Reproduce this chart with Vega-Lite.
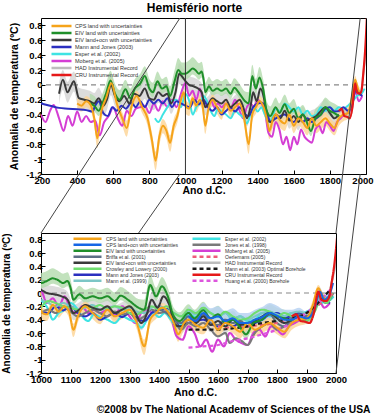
{
"$schema":"https://vega.github.io/schema/vega-lite/v6.json",
"background":"white",
"padding":{"left":1,"top":1,"right":0,"bottom":2},
"config":{
 "font":"Liberation Sans",
 "view":{"stroke":"#000","strokeWidth":1},
 "axis":{"labelFont":"Liberation Sans","labelFontWeight":"bold","labelFontSize":9.5,"labelColor":"#000","titleFont":"Liberation Sans","titleFontWeight":"bold","titleFontSize":10.5,"titleColor":"#000","grid":false,"domain":false,"ticks":true,"tickColor":"#000","tickSize":-4,"labelPadding":3,"labelFlush":false,"labelOverlap":false,"labelBound":false},
 "title":{"font":"Liberation Sans","fontWeight":"bold","color":"#000"}
},
"title":{"text":"©2008 by The National Academy of Sciences of the USA","orient":"bottom","anchor":"end","fontSize":10.3,"offset":6,"dx":-3},
"spacing":-182,
"resolve":{"scale":{"color":"independent","strokeDash":"independent","strokeWidth":"independent"}},
"datasets":{
"names":[
{"s":"cps","n":"CPS land with uncertainties"},
{"s":"eivl","n":"EIV land with uncertainties"},
{"s":"eivlo","n":"EIV land+ocn with uncertainties"},
{"s":"mj","n":"Mann and Jones (2003)"},
{"s":"esp","n":"Esper et al. (2002)"},
{"s":"mob","n":"Moberg et al. (2005)"},
{"s":"had","n":"HAD Instrumental Record"},
{"s":"cru","n":"CRU Instrumental Record"},
{"s":"cpslo","n":"CPS land+ocn with uncertainties"},
{"s":"bri","n":"Briffa et al. (2001)"},
{"s":"crow","n":"Crowley and Lowery (2000)"},
{"s":"m99","n":"Mann et al. (1999)"},
{"s":"jon","n":"Jones et al. (1998)"},
{"s":"oer","n":"Oerlemans (2005)"},
{"s":"mb","n":"Mann et al. (2003) Optimal Borehole"},
{"s":"hu","n":"Huang et al. (2000) Borehole"}
],
"conn":[
{"id":"C","x":1471,"y":4.125},{"id":"C","x":1000,"y":0.9},
{"id":"A","x":2082,"y":4.125},{"id":"A","x":2000,"y":0.9},
{"id":"D","x":1471,"y":1.785},{"id":"D","x":1331,"y":0.9},
{"id":"B","x":2082,"y":1.785},{"id":"B","x":2000,"y":-1.2}
],
"d":[
{"s":"had","x":1850,"y":-0.38},{"s":"had","x":1870,"y":-0.32},{"s":"had","x":1890,"y":-0.42},{"s":"had","x":1910,"y":-0.45},{"s":"had","x":1930,"y":-0.2},{"s":"had","x":1940,"y":0.0},{"s":"had","x":1955,"y":-0.12},{"s":"had","x":1970,"y":-0.12},{"s":"had","x":1985,"y":0.15},{"s":"had","x":1995,"y":0.35},{"s":"had","x":2006,"y":0.6},
{"s":"mob","x":200,"y":-0.4},{"s":"mob","x":225,"y":-0.5},{"s":"mob","x":250,"y":-0.35},{"s":"mob","x":270,"y":-0.27},{"s":"mob","x":300,"y":-0.45},{"s":"mob","x":325,"y":-0.62},{"s":"mob","x":350,"y":-0.42},{"s":"mob","x":375,"y":-0.55},{"s":"mob","x":400,"y":-0.36},{"s":"mob","x":425,"y":-0.5},{"s":"mob","x":450,"y":-0.42},{"s":"mob","x":475,"y":-0.5},{"s":"mob","x":500,"y":-0.48},{"s":"mob","x":525,"y":-0.68},{"s":"mob","x":550,"y":-0.5},{"s":"mob","x":575,"y":-0.42},{"s":"mob","x":600,"y":-0.3},{"s":"mob","x":625,"y":-0.45},{"s":"mob","x":650,"y":-0.55},{"s":"mob","x":675,"y":-0.35},{"s":"mob","x":700,"y":-0.42},{"s":"mob","x":725,"y":-0.32},{"s":"mob","x":750,"y":-0.3},{"s":"mob","x":775,"y":-0.28},{"s":"mob","x":800,"y":-0.38},{"s":"mob","x":825,"y":-0.25},{"s":"mob","x":850,"y":-0.35},{"s":"mob","x":875,"y":-0.22},{"s":"mob","x":900,"y":-0.3},{"s":"mob","x":925,"y":-0.2},{"s":"mob","x":950,"y":-0.3},{"s":"mob","x":975,"y":-0.12},{"s":"mob","x":1000,"y":0.03},{"s":"mob","x":1020,"y":-0.15},{"s":"mob","x":1040,"y":-0.08},{"s":"mob","x":1060,"y":-0.2},{"s":"mob","x":1080,"y":-0.05},{"s":"mob","x":1100,"y":-0.25},{"s":"mob","x":1120,"y":-0.3},{"s":"mob","x":1140,"y":-0.2},{"s":"mob","x":1160,"y":-0.3},{"s":"mob","x":1180,"y":-0.25},{"s":"mob","x":1200,"y":-0.3},{"s":"mob","x":1225,"y":-0.25},{"s":"mob","x":1250,"y":-0.32},{"s":"mob","x":1275,"y":-0.2},{"s":"mob","x":1300,"y":-0.35},{"s":"mob","x":1320,"y":-0.45},{"s":"mob","x":1340,"y":-0.3},{"s":"mob","x":1360,"y":-0.25},{"s":"mob","x":1380,"y":-0.3},{"s":"mob","x":1400,"y":-0.2},{"s":"mob","x":1420,"y":-0.25},{"s":"mob","x":1440,"y":-0.35},{"s":"mob","x":1460,"y":-0.65},{"s":"mob","x":1480,"y":-0.7},{"s":"mob","x":1500,"y":-0.5},{"s":"mob","x":1520,"y":-0.6},{"s":"mob","x":1540,"y":-0.8},{"s":"mob","x":1560,"y":-0.7},{"s":"mob","x":1580,"y":-0.88},{"s":"mob","x":1600,"y":-0.7},{"s":"mob","x":1620,"y":-0.8},{"s":"mob","x":1640,"y":-0.6},{"s":"mob","x":1660,"y":-0.7},{"s":"mob","x":1680,"y":-0.75},{"s":"mob","x":1700,"y":-0.78},{"s":"mob","x":1720,"y":-0.6},{"s":"mob","x":1740,"y":-0.55},{"s":"mob","x":1760,"y":-0.65},{"s":"mob","x":1780,"y":-0.5},{"s":"mob","x":1800,"y":-0.55},{"s":"mob","x":1820,"y":-0.62},{"s":"mob","x":1840,"y":-0.5},{"s":"mob","x":1860,"y":-0.45},{"s":"mob","x":1880,"y":-0.4},{"s":"mob","x":1900,"y":-0.38},{"s":"mob","x":1920,"y":-0.3},{"s":"mob","x":1940,"y":-0.08},{"s":"mob","x":1960,"y":-0.22},{"s":"mob","x":1979,"y":-0.15},
{"s":"esp","x":831,"y":-0.45},{"s":"esp","x":850,"y":-0.5},{"s":"esp","x":875,"y":-0.4},{"s":"esp","x":900,"y":-0.3},{"s":"esp","x":925,"y":-0.22},{"s":"esp","x":950,"y":-0.2},{"s":"esp","x":975,"y":-0.3},{"s":"esp","x":1000,"y":-0.12},{"s":"esp","x":1025,"y":-0.25},{"s":"esp","x":1040,"y":-0.4},{"s":"esp","x":1060,"y":-0.3},{"s":"esp","x":1080,"y":-0.25},{"s":"esp","x":1100,"y":-0.15},{"s":"esp","x":1120,"y":-0.22},{"s":"esp","x":1140,"y":-0.35},{"s":"esp","x":1160,"y":-0.42},{"s":"esp","x":1180,"y":-0.32},{"s":"esp","x":1200,"y":-0.36},{"s":"esp","x":1225,"y":-0.4},{"s":"esp","x":1250,"y":-0.45},{"s":"esp","x":1275,"y":-0.35},{"s":"esp","x":1300,"y":-0.4},{"s":"esp","x":1325,"y":-0.45},{"s":"esp","x":1340,"y":-0.52},{"s":"esp","x":1360,"y":-0.4},{"s":"esp","x":1380,"y":-0.3},{"s":"esp","x":1400,"y":-0.36},{"s":"esp","x":1420,"y":-0.3},{"s":"esp","x":1440,"y":-0.4},{"s":"esp","x":1460,"y":-0.5},{"s":"esp","x":1480,"y":-0.45},{"s":"esp","x":1500,"y":-0.32},{"s":"esp","x":1525,"y":-0.36},{"s":"esp","x":1550,"y":-0.25},{"s":"esp","x":1575,"y":-0.3},{"s":"esp","x":1600,"y":-0.36},{"s":"esp","x":1625,"y":-0.3},{"s":"esp","x":1650,"y":-0.4},{"s":"esp","x":1675,"y":-0.35},{"s":"esp","x":1700,"y":-0.42},{"s":"esp","x":1725,"y":-0.4},{"s":"esp","x":1750,"y":-0.3},{"s":"esp","x":1775,"y":-0.35},{"s":"esp","x":1800,"y":-0.3},{"s":"esp","x":1825,"y":-0.35},{"s":"esp","x":1850,"y":-0.3},{"s":"esp","x":1875,"y":-0.32},{"s":"esp","x":1900,"y":-0.28},{"s":"esp","x":1925,"y":-0.22},{"s":"esp","x":1950,"y":-0.15},{"s":"esp","x":1975,"y":-0.12},{"s":"esp","x":1992,"y":-0.05},
{"s":"mj","x":200,"y":-0.25},{"s":"mj","x":250,"y":-0.28},{"s":"mj","x":300,"y":-0.31},{"s":"mj","x":350,"y":-0.32},{"s":"mj","x":400,"y":-0.33},{"s":"mj","x":450,"y":-0.34},{"s":"mj","x":485,"y":-0.36},{"s":"mj","x":500,"y":-0.28},{"s":"mj","x":520,"y":-0.22},{"s":"mj","x":545,"y":-0.38},{"s":"mj","x":570,"y":-0.42},{"s":"mj","x":595,"y":-0.3},{"s":"mj","x":620,"y":-0.35},{"s":"mj","x":645,"y":-0.28},{"s":"mj","x":670,"y":-0.32},{"s":"mj","x":700,"y":-0.24},{"s":"mj","x":725,"y":-0.3},{"s":"mj","x":750,"y":-0.22},{"s":"mj","x":775,"y":-0.3},{"s":"mj","x":800,"y":-0.2},{"s":"mj","x":825,"y":-0.25},{"s":"mj","x":850,"y":-0.2},{"s":"mj","x":875,"y":-0.25},{"s":"mj","x":900,"y":-0.18},{"s":"mj","x":925,"y":-0.3},{"s":"mj","x":950,"y":-0.22},{"s":"mj","x":975,"y":-0.25},{"s":"mj","x":1000,"y":-0.28},{"s":"mj","x":1025,"y":-0.3},{"s":"mj","x":1050,"y":-0.2},{"s":"mj","x":1075,"y":-0.26},{"s":"mj","x":1100,"y":-0.2},{"s":"mj","x":1125,"y":-0.3},{"s":"mj","x":1150,"y":-0.35},{"s":"mj","x":1175,"y":-0.3},{"s":"mj","x":1200,"y":-0.4},{"s":"mj","x":1225,"y":-0.35},{"s":"mj","x":1250,"y":-0.3},{"s":"mj","x":1275,"y":-0.36},{"s":"mj","x":1300,"y":-0.3},{"s":"mj","x":1325,"y":-0.38},{"s":"mj","x":1350,"y":-0.42},{"s":"mj","x":1375,"y":-0.3},{"s":"mj","x":1400,"y":-0.25},{"s":"mj","x":1425,"y":-0.24},{"s":"mj","x":1450,"y":-0.35},{"s":"mj","x":1470,"y":-0.5},{"s":"mj","x":1500,"y":-0.45},{"s":"mj","x":1525,"y":-0.42},{"s":"mj","x":1550,"y":-0.4},{"s":"mj","x":1575,"y":-0.46},{"s":"mj","x":1600,"y":-0.5},{"s":"mj","x":1625,"y":-0.44},{"s":"mj","x":1650,"y":-0.5},{"s":"mj","x":1675,"y":-0.45},{"s":"mj","x":1700,"y":-0.5},{"s":"mj","x":1725,"y":-0.45},{"s":"mj","x":1750,"y":-0.4},{"s":"mj","x":1775,"y":-0.32},{"s":"mj","x":1800,"y":-0.3},{"s":"mj","x":1825,"y":-0.36},{"s":"mj","x":1850,"y":-0.35},{"s":"mj","x":1875,"y":-0.3},{"s":"mj","x":1900,"y":-0.35},{"s":"mj","x":1925,"y":-0.25},{"s":"mj","x":1945,"y":-0.05},{"s":"mj","x":1965,"y":-0.12},{"s":"mj","x":1980,"y":-0.15},
{"s":"jon","x":1000,"y":-0.3},{"s":"jon","x":1025,"y":-0.25},{"s":"jon","x":1050,"y":-0.3},{"s":"jon","x":1075,"y":-0.2},{"s":"jon","x":1100,"y":-0.28},{"s":"jon","x":1125,"y":-0.35},{"s":"jon","x":1150,"y":-0.3},{"s":"jon","x":1175,"y":-0.25},{"s":"jon","x":1200,"y":-0.3},{"s":"jon","x":1225,"y":-0.35},{"s":"jon","x":1250,"y":-0.28},{"s":"jon","x":1275,"y":-0.32},{"s":"jon","x":1300,"y":-0.3},{"s":"jon","x":1325,"y":-0.4},{"s":"jon","x":1350,"y":-0.35},{"s":"jon","x":1375,"y":-0.25},{"s":"jon","x":1400,"y":-0.3},{"s":"jon","x":1425,"y":-0.28},{"s":"jon","x":1450,"y":-0.4},{"s":"jon","x":1475,"y":-0.55},{"s":"jon","x":1500,"y":-0.45},{"s":"jon","x":1525,"y":-0.5},{"s":"jon","x":1550,"y":-0.45},{"s":"jon","x":1575,"y":-0.55},{"s":"jon","x":1600,"y":-0.65},{"s":"jon","x":1625,"y":-0.6},{"s":"jon","x":1640,"y":-0.75},{"s":"jon","x":1660,"y":-0.68},{"s":"jon","x":1680,"y":-0.72},{"s":"jon","x":1700,"y":-0.78},{"s":"jon","x":1725,"y":-0.6},{"s":"jon","x":1750,"y":-0.5},{"s":"jon","x":1775,"y":-0.45},{"s":"jon","x":1800,"y":-0.55},{"s":"jon","x":1825,"y":-0.5},{"s":"jon","x":1850,"y":-0.42},{"s":"jon","x":1875,"y":-0.35},{"s":"jon","x":1900,"y":-0.38},{"s":"jon","x":1925,"y":-0.25},{"s":"jon","x":1945,"y":-0.05},{"s":"jon","x":1965,"y":-0.15},{"s":"jon","x":1991,"y":0.0},
{"s":"m99","x":1000,"y":-0.1},{"s":"m99","x":1025,"y":-0.15},{"s":"m99","x":1050,"y":-0.2},{"s":"m99","x":1075,"y":-0.15},{"s":"m99","x":1100,"y":-0.2},{"s":"m99","x":1125,"y":-0.25},{"s":"m99","x":1150,"y":-0.22},{"s":"m99","x":1175,"y":-0.18},{"s":"m99","x":1200,"y":-0.25},{"s":"m99","x":1225,"y":-0.22},{"s":"m99","x":1250,"y":-0.2},{"s":"m99","x":1275,"y":-0.25},{"s":"m99","x":1300,"y":-0.22},{"s":"m99","x":1325,"y":-0.28},{"s":"m99","x":1350,"y":-0.3},{"s":"m99","x":1375,"y":-0.22},{"s":"m99","x":1400,"y":-0.2},{"s":"m99","x":1425,"y":-0.25},{"s":"m99","x":1450,"y":-0.3},{"s":"m99","x":1475,"y":-0.35},{"s":"m99","x":1500,"y":-0.28},{"s":"m99","x":1525,"y":-0.32},{"s":"m99","x":1550,"y":-0.25},{"s":"m99","x":1575,"y":-0.3},{"s":"m99","x":1600,"y":-0.35},{"s":"m99","x":1625,"y":-0.3},{"s":"m99","x":1650,"y":-0.38},{"s":"m99","x":1675,"y":-0.35},{"s":"m99","x":1700,"y":-0.4},{"s":"m99","x":1725,"y":-0.35},{"s":"m99","x":1750,"y":-0.3},{"s":"m99","x":1775,"y":-0.28},{"s":"m99","x":1800,"y":-0.32},{"s":"m99","x":1825,"y":-0.35},{"s":"m99","x":1850,"y":-0.3},{"s":"m99","x":1875,"y":-0.28},{"s":"m99","x":1900,"y":-0.3},{"s":"m99","x":1925,"y":-0.2},{"s":"m99","x":1950,"y":-0.05},{"s":"m99","x":1980,"y":-0.08},
{"s":"crow","x":1000,"y":-0.22},{"s":"crow","x":1025,"y":-0.12},{"s":"crow","x":1050,"y":-0.15},{"s":"crow","x":1075,"y":-0.2},{"s":"crow","x":1100,"y":-0.22},{"s":"crow","x":1125,"y":-0.25},{"s":"crow","x":1150,"y":-0.2},{"s":"crow","x":1175,"y":-0.22},{"s":"crow","x":1200,"y":-0.18},{"s":"crow","x":1225,"y":-0.24},{"s":"crow","x":1250,"y":-0.2},{"s":"crow","x":1275,"y":-0.22},{"s":"crow","x":1300,"y":-0.3},{"s":"crow","x":1325,"y":-0.32},{"s":"crow","x":1350,"y":-0.25},{"s":"crow","x":1375,"y":-0.2},{"s":"crow","x":1400,"y":-0.25},{"s":"crow","x":1425,"y":-0.2},{"s":"crow","x":1450,"y":-0.3},{"s":"crow","x":1475,"y":-0.35},{"s":"crow","x":1500,"y":-0.25},{"s":"crow","x":1525,"y":-0.3},{"s":"crow","x":1550,"y":-0.22},{"s":"crow","x":1575,"y":-0.3},{"s":"crow","x":1600,"y":-0.35},{"s":"crow","x":1625,"y":-0.28},{"s":"crow","x":1650,"y":-0.35},{"s":"crow","x":1675,"y":-0.4},{"s":"crow","x":1700,"y":-0.38},{"s":"crow","x":1725,"y":-0.3},{"s":"crow","x":1750,"y":-0.25},{"s":"crow","x":1775,"y":-0.28},{"s":"crow","x":1800,"y":-0.35},{"s":"crow","x":1825,"y":-0.3},{"s":"crow","x":1850,"y":-0.35},{"s":"crow","x":1875,"y":-0.38},{"s":"crow","x":1900,"y":-0.42},{"s":"crow","x":1925,"y":-0.3},{"s":"crow","x":1950,"y":-0.1},{"s":"crow","x":1970,"y":-0.15},{"s":"crow","x":1987,"y":0.0},
{"s":"bri","x":1402,"y":-0.25},{"s":"bri","x":1425,"y":-0.3},{"s":"bri","x":1450,"y":-0.4},{"s":"bri","x":1475,"y":-0.45},{"s":"bri","x":1500,"y":-0.35},{"s":"bri","x":1525,"y":-0.4},{"s":"bri","x":1550,"y":-0.32},{"s":"bri","x":1575,"y":-0.45},{"s":"bri","x":1600,"y":-0.48},{"s":"bri","x":1625,"y":-0.4},{"s":"bri","x":1650,"y":-0.45},{"s":"bri","x":1675,"y":-0.42},{"s":"bri","x":1700,"y":-0.5},{"s":"bri","x":1725,"y":-0.4},{"s":"bri","x":1750,"y":-0.38},{"s":"bri","x":1775,"y":-0.32},{"s":"bri","x":1800,"y":-0.45},{"s":"bri","x":1825,"y":-0.5},{"s":"bri","x":1850,"y":-0.38},{"s":"bri","x":1875,"y":-0.32},{"s":"bri","x":1900,"y":-0.35},{"s":"bri","x":1925,"y":-0.2},{"s":"bri","x":1945,"y":0.0},{"s":"bri","x":1960,"y":-0.08},
{"s":"oer","x":1600,"y":-0.5},{"s":"oer","x":1650,"y":-0.52},{"s":"oer","x":1700,"y":-0.5},{"s":"oer","x":1750,"y":-0.48},{"s":"oer","x":1800,"y":-0.45},{"s":"oer","x":1850,"y":-0.4},{"s":"oer","x":1900,"y":-0.3},{"s":"oer","x":1950,"y":-0.15},{"s":"oer","x":1990,"y":0.0},
{"s":"hu","x":1500,"y":-0.82},{"s":"hu","x":1550,"y":-0.8},{"s":"hu","x":1600,"y":-0.78},{"s":"hu","x":1650,"y":-0.72},{"s":"hu","x":1700,"y":-0.68},{"s":"hu","x":1750,"y":-0.62},{"s":"hu","x":1800,"y":-0.55},{"s":"hu","x":1850,"y":-0.45},{"s":"hu","x":1900,"y":-0.3},{"s":"hu","x":1950,"y":-0.1},{"s":"hu","x":1980,"y":0.05},
{"s":"mb","x":1500,"y":-0.55},{"s":"mb","x":1550,"y":-0.55},{"s":"mb","x":1600,"y":-0.55},{"s":"mb","x":1650,"y":-0.53},{"s":"mb","x":1700,"y":-0.5},{"s":"mb","x":1750,"y":-0.45},{"s":"mb","x":1800,"y":-0.42},{"s":"mb","x":1850,"y":-0.38},{"s":"mb","x":1900,"y":-0.3},{"s":"mb","x":1950,"y":-0.1},{"s":"mb","x":1980,"y":0.05},
{"s":"eivlo","x":300,"y":-0.12,"lo":-0.26,"hi":0.02},{"s":"eivlo","x":321,"y":0.07,"lo":-0.07,"hi":0.2},{"s":"eivlo","x":347,"y":-0.1,"lo":-0.24,"hi":0.04},{"s":"eivlo","x":365,"y":-0.02,"lo":-0.16,"hi":0.12},{"s":"eivlo","x":382,"y":0.05,"lo":-0.09,"hi":0.18},{"s":"eivlo","x":410,"y":-0.18,"lo":-0.32,"hi":-0.04},{"s":"eivlo","x":440,"y":-0.2,"lo":-0.34,"hi":-0.06},{"s":"eivlo","x":470,"y":-0.22,"lo":-0.36,"hi":-0.08},{"s":"eivlo","x":495,"y":-0.25,"lo":-0.39,"hi":-0.11},{"s":"eivlo","x":519,"y":-0.18,"lo":-0.32,"hi":-0.04},{"s":"eivlo","x":545,"y":-0.28,"lo":-0.42,"hi":-0.14},{"s":"eivlo","x":565,"y":-0.2,"lo":-0.34,"hi":-0.06},{"s":"eivlo","x":587,"y":0.0,"lo":-0.14,"hi":0.14},{"s":"eivlo","x":610,"y":-0.15,"lo":-0.29,"hi":-0.01},{"s":"eivlo","x":635,"y":-0.22,"lo":-0.36,"hi":-0.08},{"s":"eivlo","x":660,"y":-0.15,"lo":-0.29,"hi":-0.01},{"s":"eivlo","x":690,"y":-0.25,"lo":-0.39,"hi":-0.11},{"s":"eivlo","x":715,"y":-0.12,"lo":-0.26,"hi":0.02},{"s":"eivlo","x":745,"y":-0.15,"lo":-0.29,"hi":-0.01},{"s":"eivlo","x":775,"y":-0.05,"lo":-0.19,"hi":0.09},{"s":"eivlo","x":800,"y":-0.18,"lo":-0.32,"hi":-0.04},{"s":"eivlo","x":825,"y":-0.2,"lo":-0.34,"hi":-0.06},{"s":"eivlo","x":850,"y":-0.1,"lo":-0.24,"hi":0.04},{"s":"eivlo","x":875,"y":-0.15,"lo":-0.29,"hi":-0.01},{"s":"eivlo","x":900,"y":-0.12,"lo":-0.26,"hi":0.02},{"s":"eivlo","x":920,"y":-0.25,"lo":-0.39,"hi":-0.11},{"s":"eivlo","x":945,"y":-0.1,"lo":-0.24,"hi":0.04},{"s":"eivlo","x":965,"y":0.15,"lo":0.01,"hi":0.29},{"s":"eivlo","x":985,"y":0.1,"lo":-0.04,"hi":0.24},{"s":"eivlo","x":1000,"y":0.05,"lo":-0.08,"hi":0.18},{"s":"eivlo","x":1020,"y":0.0,"lo":-0.12,"hi":0.12},{"s":"eivlo","x":1045,"y":-0.02,"lo":-0.14,"hi":0.1},{"s":"eivlo","x":1070,"y":-0.05,"lo":-0.17,"hi":0.07},{"s":"eivlo","x":1090,"y":-0.1,"lo":-0.22,"hi":0.02},{"s":"eivlo","x":1110,"y":-0.3,"lo":-0.41,"hi":-0.18},{"s":"eivlo","x":1130,"y":-0.25,"lo":-0.36,"hi":-0.14},{"s":"eivlo","x":1150,"y":-0.18,"lo":-0.29,"hi":-0.07},{"s":"eivlo","x":1175,"y":-0.22,"lo":-0.33,"hi":-0.11},{"s":"eivlo","x":1200,"y":-0.25,"lo":-0.36,"hi":-0.14},{"s":"eivlo","x":1225,"y":-0.2,"lo":-0.31,"hi":-0.09},{"s":"eivlo","x":1250,"y":-0.3,"lo":-0.41,"hi":-0.19},{"s":"eivlo","x":1275,"y":-0.25,"lo":-0.36,"hi":-0.14},{"s":"eivlo","x":1300,"y":-0.2,"lo":-0.31,"hi":-0.09},{"s":"eivlo","x":1320,"y":-0.3,"lo":-0.41,"hi":-0.19},{"s":"eivlo","x":1340,"y":-0.45,"lo":-0.56,"hi":-0.34},{"s":"eivlo","x":1360,"y":-0.3,"lo":-0.41,"hi":-0.19},{"s":"eivlo","x":1375,"y":-0.1,"lo":-0.21,"hi":0.01},{"s":"eivlo","x":1395,"y":-0.22,"lo":-0.33,"hi":-0.11},{"s":"eivlo","x":1415,"y":-0.05,"lo":-0.16,"hi":0.06},{"s":"eivlo","x":1435,"y":-0.18,"lo":-0.29,"hi":-0.07},{"s":"eivlo","x":1455,"y":-0.48,"lo":-0.59,"hi":-0.37},{"s":"eivlo","x":1475,"y":-0.5,"lo":-0.61,"hi":-0.39},{"s":"eivlo","x":1500,"y":-0.4,"lo":-0.51,"hi":-0.29},{"s":"eivlo","x":1525,"y":-0.45,"lo":-0.56,"hi":-0.34},{"s":"eivlo","x":1550,"y":-0.35,"lo":-0.46,"hi":-0.24},{"s":"eivlo","x":1575,"y":-0.48,"lo":-0.59,"hi":-0.37},{"s":"eivlo","x":1600,"y":-0.42,"lo":-0.53,"hi":-0.31},{"s":"eivlo","x":1625,"y":-0.5,"lo":-0.61,"hi":-0.39},{"s":"eivlo","x":1650,"y":-0.4,"lo":-0.51,"hi":-0.29},{"s":"eivlo","x":1675,"y":-0.48,"lo":-0.59,"hi":-0.37},{"s":"eivlo","x":1700,"y":-0.45,"lo":-0.56,"hi":-0.34},{"s":"eivlo","x":1725,"y":-0.42,"lo":-0.53,"hi":-0.31},{"s":"eivlo","x":1750,"y":-0.35,"lo":-0.46,"hi":-0.24},{"s":"eivlo","x":1775,"y":-0.3,"lo":-0.41,"hi":-0.19},{"s":"eivlo","x":1800,"y":-0.38,"lo":-0.49,"hi":-0.27},{"s":"eivlo","x":1825,"y":-0.45,"lo":-0.56,"hi":-0.34},{"s":"eivlo","x":1850,"y":-0.4,"lo":-0.51,"hi":-0.29},
{"s":"eivl","x":470,"y":-0.25,"lo":-0.32,"hi":-0.12},{"s":"eivl","x":495,"y":-0.28,"lo":-0.35,"hi":-0.15},{"s":"eivl","x":519,"y":-0.35,"lo":-0.42,"hi":-0.22},{"s":"eivl","x":540,"y":-0.25,"lo":-0.32,"hi":-0.12},{"s":"eivl","x":560,"y":-0.12,"lo":-0.19,"hi":0.01},{"s":"eivl","x":585,"y":0.06,"lo":-0.01,"hi":0.19},{"s":"eivl","x":610,"y":-0.12,"lo":-0.19,"hi":0.01},{"s":"eivl","x":635,"y":-0.2,"lo":-0.27,"hi":-0.07},{"s":"eivl","x":668,"y":-0.06,"lo":-0.13,"hi":0.07},{"s":"eivl","x":695,"y":-0.18,"lo":-0.25,"hi":-0.05},{"s":"eivl","x":720,"y":-0.05,"lo":-0.12,"hi":0.08},{"s":"eivl","x":750,"y":0.02,"lo":-0.05,"hi":0.15},{"s":"eivl","x":775,"y":0.12,"lo":0.05,"hi":0.25},{"s":"eivl","x":800,"y":-0.05,"lo":-0.12,"hi":0.08},{"s":"eivl","x":820,"y":-0.1,"lo":-0.17,"hi":0.03},{"s":"eivl","x":845,"y":0.05,"lo":-0.02,"hi":0.18},{"s":"eivl","x":870,"y":-0.05,"lo":-0.12,"hi":0.08},{"s":"eivl","x":895,"y":-0.02,"lo":-0.09,"hi":0.11},{"s":"eivl","x":915,"y":-0.15,"lo":-0.22,"hi":-0.02},{"s":"eivl","x":940,"y":0.05,"lo":-0.02,"hi":0.2},{"s":"eivl","x":960,"y":0.2,"lo":0.12,"hi":0.36},{"s":"eivl","x":980,"y":0.15,"lo":0.07,"hi":0.3},{"s":"eivl","x":1000,"y":0.15,"lo":0.07,"hi":0.3},{"s":"eivl","x":1020,"y":0.18,"lo":0.1,"hi":0.33},{"s":"eivl","x":1040,"y":0.22,"lo":0.14,"hi":0.37},{"s":"eivl","x":1055,"y":0.2,"lo":0.12,"hi":0.34},{"s":"eivl","x":1075,"y":0.15,"lo":0.07,"hi":0.29},{"s":"eivl","x":1090,"y":0.18,"lo":0.1,"hi":0.31},{"s":"eivl","x":1100,"y":0.08,"lo":0.0,"hi":0.21},{"s":"eivl","x":1110,"y":-0.1,"lo":-0.17,"hi":0.03},{"s":"eivl","x":1130,"y":-0.02,"lo":-0.09,"hi":0.11},{"s":"eivl","x":1150,"y":-0.08,"lo":-0.15,"hi":0.05},{"s":"eivl","x":1175,"y":-0.05,"lo":-0.12,"hi":0.08},{"s":"eivl","x":1200,"y":-0.08,"lo":-0.15,"hi":0.05},{"s":"eivl","x":1225,"y":-0.05,"lo":-0.12,"hi":0.08},{"s":"eivl","x":1250,"y":-0.12,"lo":-0.19,"hi":0.01},{"s":"eivl","x":1270,"y":-0.04,"lo":-0.11,"hi":0.09},{"s":"eivl","x":1300,"y":-0.12,"lo":-0.19,"hi":0.01},{"s":"eivl","x":1330,"y":-0.22,"lo":-0.29,"hi":-0.09},{"s":"eivl","x":1350,"y":-0.25,"lo":-0.32,"hi":-0.1},{"s":"eivl","x":1370,"y":0.12,"lo":0.05,"hi":0.27},{"s":"eivl","x":1390,"y":-0.05,"lo":-0.12,"hi":0.08},{"s":"eivl","x":1410,"y":0.1,"lo":0.03,"hi":0.24},{"s":"eivl","x":1430,"y":-0.05,"lo":-0.12,"hi":0.08},{"s":"eivl","x":1450,"y":-0.35,"lo":-0.42,"hi":-0.22},{"s":"eivl","x":1470,"y":-0.42,"lo":-0.49,"hi":-0.29},{"s":"eivl","x":1500,"y":-0.3,"lo":-0.37,"hi":-0.17},{"s":"eivl","x":1520,"y":-0.38,"lo":-0.45,"hi":-0.25},{"s":"eivl","x":1550,"y":-0.26,"lo":-0.33,"hi":-0.13},{"s":"eivl","x":1575,"y":-0.38,"lo":-0.45,"hi":-0.25},{"s":"eivl","x":1600,"y":-0.32,"lo":-0.39,"hi":-0.19},{"s":"eivl","x":1625,"y":-0.45,"lo":-0.52,"hi":-0.32},{"s":"eivl","x":1650,"y":-0.4,"lo":-0.47,"hi":-0.27},{"s":"eivl","x":1675,"y":-0.52,"lo":-0.59,"hi":-0.39},{"s":"eivl","x":1695,"y":-0.62,"lo":-0.69,"hi":-0.49},{"s":"eivl","x":1720,"y":-0.45,"lo":-0.52,"hi":-0.32},{"s":"eivl","x":1750,"y":-0.4,"lo":-0.47,"hi":-0.27},{"s":"eivl","x":1775,"y":-0.3,"lo":-0.37,"hi":-0.17},{"s":"eivl","x":1800,"y":-0.35,"lo":-0.42,"hi":-0.22},{"s":"eivl","x":1825,"y":-0.38,"lo":-0.45,"hi":-0.25},{"s":"eivl","x":1850,"y":-0.42,"lo":-0.49,"hi":-0.29},
{"s":"cps","x":400,"y":-0.25,"lo":-0.32,"hi":-0.18},{"s":"cps","x":425,"y":-0.28,"lo":-0.36,"hi":-0.21},{"s":"cps","x":450,"y":-0.22,"lo":-0.3,"hi":-0.15},{"s":"cps","x":475,"y":-0.27,"lo":-0.35,"hi":-0.2},{"s":"cps","x":495,"y":-0.45,"lo":-0.55,"hi":-0.37},{"s":"cps","x":512,"y":-0.72,"lo":-0.85,"hi":-0.62},{"s":"cps","x":535,"y":-0.35,"lo":-0.44,"hi":-0.27},{"s":"cps","x":560,"y":-0.18,"lo":-0.26,"hi":-0.11},{"s":"cps","x":590,"y":0.02,"lo":-0.06,"hi":0.08},{"s":"cps","x":620,"y":-0.25,"lo":-0.33,"hi":-0.18},{"s":"cps","x":650,"y":-0.45,"lo":-0.55,"hi":-0.37},{"s":"cps","x":675,"y":-0.58,"lo":-0.7,"hi":-0.48},{"s":"cps","x":700,"y":-0.3,"lo":-0.38,"hi":-0.23},{"s":"cps","x":730,"y":-0.15,"lo":-0.23,"hi":-0.08},{"s":"cps","x":760,"y":-0.3,"lo":-0.38,"hi":-0.23},{"s":"cps","x":790,"y":-0.45,"lo":-0.55,"hi":-0.37},{"s":"cps","x":815,"y":-0.75,"lo":-0.87,"hi":-0.65},{"s":"cps","x":835,"y":-1.02,"lo":-1.15,"hi":-0.9},{"s":"cps","x":855,"y":-0.7,"lo":-0.82,"hi":-0.6},{"s":"cps","x":875,"y":-0.55,"lo":-0.65,"hi":-0.46},{"s":"cps","x":895,"y":-0.62,"lo":-0.73,"hi":-0.53},{"s":"cps","x":915,"y":-0.78,"lo":-0.9,"hi":-0.68},{"s":"cps","x":935,"y":-0.55,"lo":-0.65,"hi":-0.46},{"s":"cps","x":955,"y":-0.42,"lo":-0.51,"hi":-0.34},{"s":"cps","x":975,"y":-0.2,"lo":-0.28,"hi":-0.13},{"s":"cps","x":990,"y":-0.1,"lo":-0.18,"hi":-0.03},{"s":"cps","x":1005,"y":-0.3,"lo":-0.4,"hi":-0.22},{"s":"cps","x":1020,"y":-0.32,"lo":-0.42,"hi":-0.24},{"s":"cps","x":1040,"y":-0.18,"lo":-0.26,"hi":-0.11},{"s":"cps","x":1060,"y":-0.28,"lo":-0.37,"hi":-0.2},{"s":"cps","x":1080,"y":-0.2,"lo":-0.28,"hi":-0.13},{"s":"cps","x":1095,"y":-0.28,"lo":-0.37,"hi":-0.2},{"s":"cps","x":1110,"y":-0.55,"lo":-0.66,"hi":-0.46},{"s":"cps","x":1125,"y":-0.35,"lo":-0.44,"hi":-0.27},{"s":"cps","x":1150,"y":-0.2,"lo":-0.28,"hi":-0.13},{"s":"cps","x":1175,"y":-0.3,"lo":-0.39,"hi":-0.22},{"s":"cps","x":1200,"y":-0.38,"lo":-0.47,"hi":-0.3},{"s":"cps","x":1225,"y":-0.25,"lo":-0.33,"hi":-0.18},{"s":"cps","x":1250,"y":-0.35,"lo":-0.44,"hi":-0.27},{"s":"cps","x":1275,"y":-0.3,"lo":-0.39,"hi":-0.22},{"s":"cps","x":1300,"y":-0.25,"lo":-0.33,"hi":-0.18},{"s":"cps","x":1325,"y":-0.45,"lo":-0.55,"hi":-0.37},{"s":"cps","x":1350,"y":-0.8,"lo":-0.93,"hi":-0.7},{"s":"cps","x":1370,"y":-0.4,"lo":-0.49,"hi":-0.32},{"s":"cps","x":1390,"y":-0.3,"lo":-0.39,"hi":-0.22},{"s":"cps","x":1410,"y":-0.22,"lo":-0.3,"hi":-0.15},{"s":"cps","x":1430,"y":-0.28,"lo":-0.37,"hi":-0.2},{"s":"cps","x":1450,"y":-0.45,"lo":-0.55,"hi":-0.37},{"s":"cps","x":1465,"y":-0.62,"lo":-0.73,"hi":-0.53},{"s":"cps","x":1485,"y":-0.45,"lo":-0.55,"hi":-0.37},{"s":"cps","x":1500,"y":-0.4,"lo":-0.49,"hi":-0.32},{"s":"cps","x":1525,"y":-0.48,"lo":-0.58,"hi":-0.4},{"s":"cps","x":1550,"y":-0.52,"lo":-0.62,"hi":-0.44},{"s":"cps","x":1575,"y":-0.4,"lo":-0.49,"hi":-0.32},{"s":"cps","x":1600,"y":-0.55,"lo":-0.65,"hi":-0.46},{"s":"cps","x":1625,"y":-0.45,"lo":-0.55,"hi":-0.37},{"s":"cps","x":1650,"y":-0.5,"lo":-0.6,"hi":-0.42},{"s":"cps","x":1675,"y":-0.58,"lo":-0.68,"hi":-0.5},{"s":"cps","x":1700,"y":-0.45,"lo":-0.55,"hi":-0.37},{"s":"cps","x":1725,"y":-0.55,"lo":-0.65,"hi":-0.46},{"s":"cps","x":1750,"y":-0.5,"lo":-0.6,"hi":-0.42},{"s":"cps","x":1775,"y":-0.45,"lo":-0.55,"hi":-0.37},{"s":"cps","x":1800,"y":-0.52,"lo":-0.62,"hi":-0.44},{"s":"cps","x":1825,"y":-0.58,"lo":-0.68,"hi":-0.5},{"s":"cps","x":1850,"y":-0.45,"lo":-0.55,"hi":-0.37},{"s":"cps","x":1875,"y":-0.4,"lo":-0.49,"hi":-0.32},{"s":"cps","x":1900,"y":-0.38,"lo":-0.46,"hi":-0.3},{"s":"cps","x":1920,"y":-0.2,"lo":-0.27,"hi":-0.13},{"s":"cps","x":1940,"y":0.07,"lo":0.0,"hi":0.12},{"s":"cps","x":1955,"y":-0.05,"lo":-0.12,"hi":0.01},{"s":"cps","x":1965,"y":-0.1,"lo":-0.17,"hi":-0.04},
{"s":"cpslo","x":1500,"y":-0.35,"lo":-0.42,"hi":-0.2},{"s":"cpslo","x":1525,"y":-0.42,"lo":-0.49,"hi":-0.27},{"s":"cpslo","x":1550,"y":-0.3,"lo":-0.37,"hi":-0.15},{"s":"cpslo","x":1575,"y":-0.38,"lo":-0.45,"hi":-0.23},{"s":"cpslo","x":1600,"y":-0.35,"lo":-0.42,"hi":-0.2},{"s":"cpslo","x":1625,"y":-0.42,"lo":-0.49,"hi":-0.27},{"s":"cpslo","x":1650,"y":-0.38,"lo":-0.45,"hi":-0.23},{"s":"cpslo","x":1675,"y":-0.45,"lo":-0.52,"hi":-0.3},{"s":"cpslo","x":1700,"y":-0.45,"lo":-0.52,"hi":-0.3},{"s":"cpslo","x":1725,"y":-0.4,"lo":-0.47,"hi":-0.25},{"s":"cpslo","x":1750,"y":-0.36,"lo":-0.43,"hi":-0.21},{"s":"cpslo","x":1775,"y":-0.3,"lo":-0.37,"hi":-0.15},{"s":"cpslo","x":1800,"y":-0.34,"lo":-0.41,"hi":-0.19},{"s":"cpslo","x":1825,"y":-0.4,"lo":-0.47,"hi":-0.25},{"s":"cpslo","x":1850,"y":-0.4,"lo":-0.47,"hi":-0.25},{"s":"cpslo","x":1875,"y":-0.35,"lo":-0.42,"hi":-0.22},{"s":"cpslo","x":1900,"y":-0.38,"lo":-0.44,"hi":-0.28},{"s":"cpslo","x":1925,"y":-0.28,"lo":-0.34,"hi":-0.2},{"s":"cpslo","x":1945,"y":0.02,"lo":-0.04,"hi":0.08},{"s":"cpslo","x":1960,"y":-0.1,"lo":-0.16,"hi":-0.04},{"s":"cpslo","x":1975,"y":-0.05,"lo":-0.11,"hi":0.01},{"s":"cpslo","x":1990,"y":0.15,"lo":0.09,"hi":0.21},
{"s":"cru","x":1850,"y":-0.35},{"s":"cru","x":1865,"y":-0.32},{"s":"cru","x":1880,"y":-0.42},{"s":"cru","x":1895,"y":-0.43},{"s":"cru","x":1910,"y":-0.45},{"s":"cru","x":1925,"y":-0.3},{"s":"cru","x":1940,"y":0.02},{"s":"cru","x":1950,"y":-0.1},{"s":"cru","x":1965,"y":-0.12},{"s":"cru","x":1975,"y":-0.08},{"s":"cru","x":1985,"y":0.15},{"s":"cru","x":1995,"y":0.45},{"s":"cru","x":2006,"y":0.95}
]
},
"vconcat":[
{
 "width":325,"height":156,
 "title":{"text":"Hemisfério norte","fontSize":12,"anchor":"middle","offset":3,"dx":-9},
 "layer":[
  {"data":{"name":"d"},"transform":[{"filter":"datum.s==='eivlo'"}],"mark":{"type":"area","color":"#d6d6d6","opacity":0.85,"interpolate":"monotone","clip":true},
   "encoding":{"x":{"field":"x","type":"quantitative","scale":{"domain":[200,2000],"nice":false,"zero":false}},"y":{"field":"lo","type":"quantitative","scale":{"domain":[-1.2,0.9],"nice":false,"zero":false}},"y2":{"field":"hi"}}},
  {"data":{"name":"d"},"transform":[{"filter":"datum.s==='eivl'"}],"mark":{"type":"area","color":"#b3dbad","opacity":0.8,"interpolate":"monotone","clip":true},
   "encoding":{"x":{"field":"x","type":"quantitative","scale":{"domain":[200,2000],"nice":false,"zero":false}},"y":{"field":"lo","type":"quantitative","scale":{"domain":[-1.2,0.9],"nice":false,"zero":false}},"y2":{"field":"hi"}}},
  {"data":{"name":"d"},"transform":[{"filter":"datum.s==='cps'"}],"mark":{"type":"area","color":"#fcd393","opacity":0.8,"interpolate":"monotone","clip":true},
   "encoding":{"x":{"field":"x","type":"quantitative","scale":{"domain":[200,2000],"nice":false,"zero":false}},"y":{"field":"lo","type":"quantitative","scale":{"domain":[-1.2,0.9],"nice":false,"zero":false}},"y2":{"field":"hi"}}},
  {"data":{"values":[{}]},"mark":{"type":"rule","color":"#888","strokeDash":[5,4],"strokeWidth":1.2},
   "encoding":{"y":{"datum":0,"type":"quantitative","scale":{"domain":[-1.2,0.9],"nice":false,"zero":false}}}},
  {"data":{"name":"d"},"transform":[{"filter":{"field":"s","oneOf":["had","mob","esp","mj","eivlo","eivl","cps"]}},{"lookup":"s","from":{"data":{"name":"names"},"key":"s","fields":["n"]}}],
   "mark":{"type":"line","interpolate":"monotone","clip":true},
   "encoding":{
    "x":{"field":"x","type":"quantitative","scale":{"domain":[200,2000],"nice":false,"zero":false},"axis":{"values":[200,400,600,800,1000,1200,1400,1600,1800,2000],"tickCount":40,"format":"d","title":"Ano d.C.","titlePadding":1,"labelPadding":5,"labelFlush":true,"labelFlushOffset":7,"labelOverlap":false,"labelBound":false}},
    "y":{"field":"y","type":"quantitative","scale":{"domain":[-1.2,0.9],"nice":false,"zero":false},"axis":{"values":[-1.2,-1,-0.8,-0.6,-0.4,-0.2,0,0.2,0.4,0.6,0.8],"tickCount":40,"labelExpr":"replace(format(datum.value,'.1~f'),'−','-')","title":"Anomalia de temperatura (ºC)","titlePadding":6,"labelOverlap":false,"labelBound":false}},
    "color":{"field":"n","type":"nominal","scale":{"domain":["CPS land with uncertainties","EIV land with uncertainties","EIV land+ocn with uncertainties","Mann and Jones (2003)","Esper et al. (2002)","Moberg et al. (2005)","HAD Instrumental Record","CRU Instrumental Record"],"range":["#f5a31a","#1f8f2a","#3a3a3a","#2b2fc0","#3fe3e3","#d43ed4","#bdbdbd","#e51919"]},
      "legend":{"orient":"none","legendX":9,"legendY":5,"title":null,"symbolType":"stroke","symbolSize":400,"symbolStrokeWidth":2.5,"clipHeight":6,"labelFontSize":5.5,"labelColor":"#333","rowPadding":0,"padding":0,"labelOffset":2,"labelLimit":300}},
    "strokeWidth":{"field":"s","type":"nominal","scale":{"domain":["cps","eivl","eivlo","mj","esp","mob","had"],"range":[2,2,2,1.5,1.5,1.5,1.5]},"legend":null}
   }},
  {"data":{"name":"d"},"transform":[{"filter":"datum.s==='cru'"},{"lookup":"s","from":{"data":{"name":"names"},"key":"s","fields":["n"]}}],
   "mark":{"type":"line","interpolate":"monotone","clip":true,"strokeWidth":2.2},
   "encoding":{"x":{"field":"x","type":"quantitative","scale":{"domain":[200,2000],"nice":false,"zero":false}},"y":{"field":"y","type":"quantitative","scale":{"domain":[-1.2,0.9],"nice":false,"zero":false}},"color":{"field":"n","type":"nominal"}}},
  {"data":{"values":[{}]},"mark":{"type":"rule","color":"#333","strokeWidth":1},
   "encoding":{"x":{"datum":1000,"type":"quantitative","scale":{"domain":[200,2000],"nice":false,"zero":false}}}}
 ]
},
{
 "width":295,"height":140,
 "layer":[
  {"data":{"name":"d"},"transform":[{"filter":"datum.s==='eivlo'"}],"mark":{"type":"area","color":"#d6d6d6","opacity":0.85,"interpolate":"monotone","clip":true},
   "encoding":{"x":{"field":"x","type":"quantitative","scale":{"domain":[1000,2000],"nice":false,"zero":false}},"y":{"field":"lo","type":"quantitative","scale":{"domain":[-1.2,0.9],"nice":false,"zero":false}},"y2":{"field":"hi"}}},
  {"data":{"name":"d"},"transform":[{"filter":"datum.s==='eivl'"}],"mark":{"type":"area","color":"#b3dbad","opacity":0.8,"interpolate":"monotone","clip":true},
   "encoding":{"x":{"field":"x","type":"quantitative","scale":{"domain":[1000,2000],"nice":false,"zero":false}},"y":{"field":"lo","type":"quantitative","scale":{"domain":[-1.2,0.9],"nice":false,"zero":false}},"y2":{"field":"hi"}}},
  {"data":{"name":"d"},"transform":[{"filter":"datum.s==='cps'"}],"mark":{"type":"area","color":"#fcd393","opacity":0.8,"interpolate":"monotone","clip":true},
   "encoding":{"x":{"field":"x","type":"quantitative","scale":{"domain":[1000,2000],"nice":false,"zero":false}},"y":{"field":"lo","type":"quantitative","scale":{"domain":[-1.2,0.9],"nice":false,"zero":false}},"y2":{"field":"hi"}}},
  {"data":{"name":"d"},"transform":[{"filter":"datum.s==='cpslo'"}],"mark":{"type":"area","color":"#b8d2f2","opacity":0.85,"interpolate":"monotone","clip":true},
   "encoding":{"x":{"field":"x","type":"quantitative","scale":{"domain":[1000,2000],"nice":false,"zero":false}},"y":{"field":"lo","type":"quantitative","scale":{"domain":[-1.2,0.9],"nice":false,"zero":false}},"y2":{"field":"hi"}}},
  {"data":{"values":[{}]},"mark":{"type":"rule","color":"#888","strokeDash":[5,4],"strokeWidth":1.2},
   "encoding":{"y":{"datum":0,"type":"quantitative","scale":{"domain":[-1.2,0.9],"nice":false,"zero":false}}}},
  {"data":{"name":"d"},"transform":[{"filter":"datum.s!=='cru'"},{"lookup":"s","from":{"data":{"name":"names"},"key":"s","fields":["n"]}}],
   "mark":{"type":"line","interpolate":"monotone","clip":true},
   "encoding":{
    "x":{"field":"x","type":"quantitative","scale":{"domain":[1000,2000],"nice":false,"zero":false},"axis":{"values":[1000,1100,1200,1300,1400,1500,1600,1700,1800,1900,2000],"tickCount":40,"format":"d","title":"Ano d.C.","titlePadding":4,"titleX":154,"labelPadding":5,"labelOverlap":false,"labelBound":false}},
    "y":{"field":"y","type":"quantitative","scale":{"domain":[-1.2,0.9],"nice":false,"zero":false},"axis":{"values":[-1.2,-1,-0.8,-0.6,-0.4,-0.2,0,0.2,0.4,0.6,0.8],"tickCount":40,"labelExpr":"replace(format(datum.value,'.1~f'),'−','-')","title":"Anomalia de temperatura (ºC)","titleFontSize":10,"titlePadding":14,"labelOverlap":false,"labelBound":false}},
    "color":{"field":"n","type":"nominal","scale":{"domain":["CPS land with uncertainties","CPS land+ocn with uncertainties","EIV land with uncertainties","Briffa et al. (2001)","EIV land+ocn with uncertainties","Crowley and Lowery (2000)","Mann and Jones (2003)","Mann et al. (1999)","Esper et al. (2002)","Jones et al. (1998)","Moberg et al. (2005)","Oerlemans (2005)","HAD Instrumental Record","Mann et al. (2003) Optimal Borehole","CRU Instrumental Record","Huang et al. (2000) Borehole"],"range":["#f5a31a","#1666e6","#1f8f2a","#5d6f85","#3a3a3a","#6fdd6f","#2b2fc0","#7cc6c6","#3fe3e3","#7a7a7a","#d43ed4","#ef5a7a","#bdbdbd","#1a1a1a","#e51919","#dd55dd"]},
      "legend":{"orient":"none","legendX":31,"legendY":3,"title":null,"symbolType":"stroke","symbolSize":784,"symbolStrokeWidth":2.5,"clipHeight":5.3,"labelFontSize":5,"labelColor":"#333","rowPadding":0,"columnPadding":12,"columns":2,"padding":0,"labelOffset":3,"labelLimit":300}},
    "strokeDash":{"field":"n","type":"nominal","scale":{"domain":["CPS land with uncertainties","CPS land+ocn with uncertainties","EIV land with uncertainties","Briffa et al. (2001)","EIV land+ocn with uncertainties","Crowley and Lowery (2000)","Mann and Jones (2003)","Mann et al. (1999)","Esper et al. (2002)","Jones et al. (1998)","Moberg et al. (2005)","Oerlemans (2005)","HAD Instrumental Record","Mann et al. (2003) Optimal Borehole","CRU Instrumental Record","Huang et al. (2000) Borehole"],"range":[[1,0],[1,0],[1,0],[1,0],[1,0],[1,0],[1,0],[1,0],[1,0],[1,0],[1,0],[4,3],[1,0],[4,3],[1,0],[4,3]]}},
    "strokeWidth":{"field":"s","type":"nominal","scale":{"domain":["cps","cpslo","eivl","bri","eivlo","crow","mj","m99","esp","jon","mob","oer","had","mb","hu"],"range":[2,2.2,2,1.3,2,1.3,1.5,1.3,1.5,1.3,1.5,1.3,1.5,1.5,1.5]},"legend":null}
   }},
  {"data":{"name":"d"},"transform":[{"filter":"datum.s==='cru'"},{"lookup":"s","from":{"data":{"name":"names"},"key":"s","fields":["n"]}}],
   "mark":{"type":"line","interpolate":"monotone","clip":true,"strokeWidth":2.2},
   "encoding":{"x":{"field":"x","type":"quantitative","scale":{"domain":[1000,2000],"nice":false,"zero":false}},"y":{"field":"y","type":"quantitative","scale":{"domain":[-1.2,0.9],"nice":false,"zero":false}},"color":{"field":"n","type":"nominal"},"strokeDash":{"field":"n","type":"nominal"}}},
  {"data":{"name":"conn"},"mark":{"type":"line","clip":false,"color":"#444","strokeWidth":1},
   "encoding":{"x":{"field":"x","type":"quantitative","scale":{"domain":[1000,2000],"nice":false,"zero":false}},"y":{"field":"y","type":"quantitative","scale":{"domain":[-1.2,0.9],"nice":false,"zero":false}},"detail":{"field":"id"},"order":{"field":"y"}}}
 ]
}
]
}
